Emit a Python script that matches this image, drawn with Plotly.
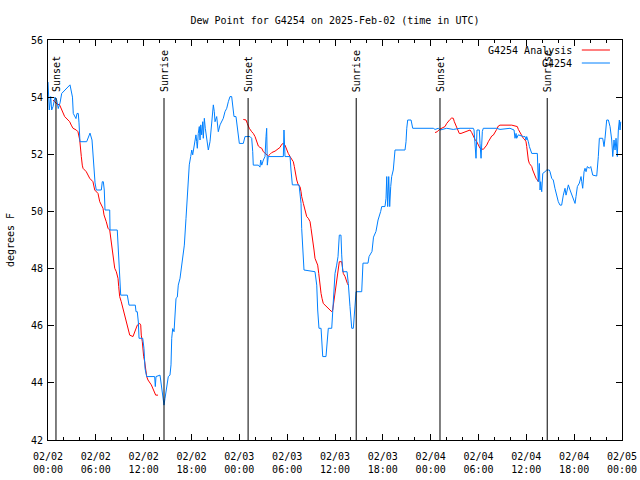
import pandas as pd
import plotly.graph_objects as go

# ---- data (hours after 2025-02-02 00:00 UTC, dew point in deg F) ----
obs_hours = [0.00, 0.16, 0.34, 0.46, 0.63, 0.88, 1.09, 1.29, 1.51, 1.72, 2.76, 3.07, 3.17, 3.51, 3.64,
             3.80, 3.89, 4.01, 4.85, 5.11, 5.27, 5.52, 5.68, 5.90, 6.06, 6.69, 6.81, 6.94, 7.06, 7.15,
             7.74, 7.78, 8.69, 8.82, 8.91, 9.12, 9.95, 10.04, 10.16, 10.95, 11.04, 11.20, 11.33, 11.42,
             11.88, 12.04, 12.17, 12.38, 13.38, 13.46, 13.55, 14.05, 14.26, 14.46, 14.55, 14.68, 14.89,
             15.09, 15.30, 15.43, 15.52, 15.64, 15.81, 15.93, 16.06, 16.22, 16.34, 16.56, 16.77, 16.97,
             17.10, 17.31, 17.47, 17.60, 17.72, 17.90, 18.03, 18.15, 18.31, 18.44, 18.56, 18.65, 18.73,
             18.85, 18.98, 19.07, 19.16, 19.28, 19.41, 19.48, 19.61, 19.73, 19.91, 20.11, 20.32, 20.54,
             20.74, 20.86, 20.95, 21.16, 21.36, 21.58, 21.79, 21.99, 22.20, 22.42, 22.62, 22.83, 23.04,
             23.17, 23.33, 23.58, 23.75, 23.87, 24.00, 24.50, 24.71, 25.34, 25.55, 25.68, 25.75, 26.38,
             26.59, 26.68, 26.81, 27.01, 27.22, 27.35, 27.43, 27.51, 27.63, 29.52, 29.60, 29.73, 30.36,
             30.48, 30.65, 31.49, 31.74, 31.82, 31.95, 32.11, 33.49, 33.71, 33.83, 33.99, 34.25, 34.33,
             34.46, 34.87, 35.04, 35.16, 35.59, 35.71, 35.88, 36.00, 36.21, 36.38, 36.54, 36.75, 36.84,
             36.97, 37.51, 37.67, 37.88, 37.97, 38.10, 38.30, 38.39, 38.51, 38.64, 39.35, 39.51, 40.14,
             40.27, 40.64, 40.83, 41.14, 41.40, 41.73, 41.86, 42.27, 42.40, 42.49, 42.61, 42.74, 42.86,
             42.99, 43.11, 43.31, 43.53, 44.78, 44.91, 45.00, 45.12, 45.54, 45.75, 48.33, 48.55, 48.96,
             49.17, 50.01, 50.84, 51.68, 53.35, 53.44, 53.56, 53.69, 53.81, 54.10, 54.19, 54.32, 54.48,
             54.60, 56.28, 56.70, 57.95, 58.29, 58.46, 58.58, 58.71, 58.79, 58.99, 59.62, 59.84, 59.96,
             60.05, 60.25, 60.38, 60.68, 61.38, 61.50, 61.63, 61.72, 61.80, 61.93, 62.06, 62.34, 62.56,
             62.88, 62.97, 63.18, 63.38, 63.59, 63.80, 64.01, 64.22, 64.43, 64.64, 64.85, 64.98, 65.14,
             65.27, 65.48, 65.69, 65.89, 66.11, 66.23, 66.40, 66.65, 66.86, 66.95, 67.07, 67.24, 67.36,
             67.49, 67.65, 67.90, 68.08, 68.33, 68.83, 69.03, 69.16, 69.58, 69.75, 69.87, 70.08, 70.29,
             70.50, 70.71, 70.84, 71.00, 71.13, 71.25, 71.41, 71.54, 71.67, 71.75, 71.84]
obs_dewpt = [54.53, 53.55, 54.02, 53.55, 53.67, 54.00, 53.90, 53.60, 53.80, 54.13, 54.43, 54.00, 53.43, 53.25, 53.43,
             53.43, 53.10, 52.44, 52.44, 52.60, 52.74, 52.50, 51.69, 51.00, 50.75, 50.75, 51.04, 51.04, 50.75, 50.05,
             50.05, 49.35, 49.35, 48.70, 47.80, 47.07, 47.07, 46.95, 46.72, 46.72, 46.49, 46.49, 46.13, 45.56,
             45.56, 45.20, 44.50, 44.22, 44.22, 43.87, 44.22, 44.27, 43.81, 43.34, 43.22, 43.46, 43.81,
             44.22, 44.27, 44.63, 45.56, 45.90, 45.79, 46.26, 46.96, 47.00, 47.42, 47.66, 48.12, 48.47,
             48.82, 49.76, 50.58, 51.16, 51.63, 51.92, 52.15, 51.98, 52.27, 52.62, 52.68, 52.44, 52.21,
             52.73, 52.97, 52.50, 53.03, 52.68, 53.14, 52.56, 53.26, 52.91, 52.44, 52.15, 52.44, 53.14,
             53.73, 53.49, 53.14, 53.32, 52.79, 53.03, 53.14, 53.26, 53.49, 53.61, 53.84, 54.02, 54.02,
             53.73, 53.32, 53.32, 52.97, 52.68, 52.38, 52.38, 52.62, 52.62, 52.56, 52.09, 51.62, 51.62,
             51.55, 51.80, 51.62, 51.80, 51.92, 52.62, 52.91, 51.62, 51.92, 51.92, 52.85, 51.92, 51.92,
             51.45, 50.93, 50.93, 50.28, 49.41, 48.65, 47.95, 47.89, 47.42, 46.55, 45.91, 45.91, 45.38,
             44.92, 44.92, 45.62, 45.91, 45.91, 46.43, 47.19, 47.83, 48.12, 48.42, 49.17, 49.17, 48.48,
             47.89, 47.89, 47.48, 46.67, 46.20, 45.91, 45.91, 46.26, 46.90, 47.19, 47.19, 48.19, 48.19,
             48.42, 48.60, 49.10, 49.30, 49.70, 50.00, 50.17, 50.17, 50.46, 51.22, 50.17, 51.22, 50.17,
             50.87, 51.22, 51.45, 52.15, 52.15, 52.44, 52.91, 53.20, 53.20, 52.91, 52.91, 52.87, 52.91,
             52.85, 52.91, 52.87, 52.91, 52.91, 52.85, 52.38, 51.86, 52.85, 52.85, 52.38, 51.86, 52.80,
             52.91, 52.91, 52.87, 52.91, 52.87, 52.85, 52.56, 52.73, 52.56, 52.68, 52.62, 52.62, 52.50,
             52.62, 52.44, 52.27, 52.03, 52.03, 51.04, 51.68, 50.75, 51.04, 50.69, 51.33, 51.39, 51.45,
             51.45, 51.39, 51.16, 51.10, 50.81, 50.52, 50.34, 50.22, 50.22, 50.57, 50.81, 50.57, 50.75,
             50.93, 50.75, 50.57, 50.40, 50.28, 50.52, 50.87, 50.99, 51.22, 51.04, 50.81, 51.39, 51.51,
             51.39, 51.57, 51.51, 51.57, 51.27, 51.24, 51.92, 52.56, 52.56, 52.27, 52.56, 53.20, 53.20,
             52.97, 52.50, 51.92, 52.50, 52.15, 52.56, 51.92, 52.85, 53.20, 52.85, 53.14]

ana1_hours = [0.63, 1.04, 1.47, 1.67, 1.88, 2.09, 2.51, 2.72, 2.92, 3.14, 3.55, 3.76, 3.98, 4.05, 4.18,
              4.30, 4.39, 4.80, 5.23, 5.64, 5.86, 6.27, 6.49, 6.90, 7.02, 7.31, 7.53, 7.74, 7.87, 7.94,
              8.15, 8.37, 8.57, 8.78, 8.87, 8.99, 9.19, 9.53, 9.82, 10.04, 10.25, 10.66, 10.95, 11.20,
              11.50, 11.63, 11.70, 11.83, 12.00, 12.13, 12.38, 12.54, 12.96, 13.38, 13.51, 13.80]
ana1_dewpt = [53.90, 53.78, 53.72, 53.61, 53.49, 53.32, 53.20, 53.14, 53.02, 52.91, 52.85, 52.79, 52.50, 52.21, 51.92,
              51.62, 51.51, 51.39, 51.16, 51.04, 50.75, 50.63, 50.34, 50.11, 49.88, 49.64, 49.41, 49.35, 49.06, 48.83,
              48.42, 48.01, 47.89, 47.66, 47.37, 47.02, 46.84, 46.49, 46.20, 45.91, 45.67, 45.62, 45.85, 46.02,
              46.08, 46.02, 45.67, 45.44, 44.92, 44.74, 44.22, 44.10, 43.93, 43.69, 43.57, 43.57]

ana2_hours = [24.50, 24.84, 25.00, 25.25, 25.55, 25.75, 25.97, 26.18, 26.38, 26.59, 26.81, 27.01, 27.22, 27.43,
              27.63, 27.85, 28.06, 28.48, 28.69, 28.89, 29.10, 29.32, 29.52, 29.73, 29.94, 30.14, 30.36, 30.57,
              30.77, 30.90, 31.07, 31.20, 31.40, 31.61, 31.74, 31.82, 32.03, 32.24, 32.45, 32.65, 32.87, 32.99,
              33.08, 33.20, 33.37, 33.49, 33.71, 33.83, 33.96, 34.03, 34.12, 34.25, 34.37, 34.53, 34.75, 34.96,
              35.16, 35.37, 35.59, 35.71, 35.88, 36.00, 36.21, 36.34, 36.47, 36.54, 36.84, 36.92, 37.04, 37.26,
              37.38, 37.55, 37.67]
ana2_dewpt = [53.22, 53.20, 53.08, 52.91, 52.79, 52.73, 52.62, 52.44, 52.29, 52.24, 52.21, 52.09, 52.03, 51.97,
              51.94, 52.00, 52.06, 52.11, 52.15, 52.17, 52.24, 52.35, 52.38, 52.32, 52.15, 52.03, 51.92, 51.80,
              51.74, 51.57, 51.27, 51.10, 50.92, 50.87, 50.69, 50.52, 50.28, 50.05, 49.82, 49.76, 49.64, 49.41,
              49.17, 48.94, 48.65, 48.36, 48.24, 48.12, 47.83, 47.60, 47.37, 47.13, 46.96, 46.78, 46.72, 46.67,
              46.61, 46.55, 46.49, 46.55, 46.90, 47.13, 47.54, 47.83, 48.07, 48.24, 48.24, 48.07, 47.83, 47.72,
              47.60, 47.48, 47.42]

ana3_hours = [48.55, 48.83, 49.09, 49.59, 49.80, 50.01, 50.21, 50.43, 50.64, 50.84, 50.97, 51.18, 51.34, 51.59,
              51.81, 52.09, 52.43, 52.94, 53.15, 53.35, 53.56, 53.78, 53.98, 54.19, 54.60, 54.82, 55.03, 55.23,
              55.44, 55.66, 55.86, 56.07, 56.28, 56.49, 56.70, 58.17, 58.58, 58.87, 59.00, 59.21, 59.42, 59.62,
              59.84, 59.96, 60.05, 60.13, 60.25, 60.38, 60.55, 60.68, 60.80, 60.97, 61.09, 61.22, 61.38, 61.50]
ana3_dewpt = [52.76, 52.79, 52.87, 52.93, 52.97, 53.08, 53.17, 53.22, 53.27, 53.26, 53.14, 52.99, 52.87, 52.73,
              52.73, 52.76, 52.81, 52.85, 52.76, 52.62, 52.52, 52.44, 52.32, 52.21, 52.17, 52.23, 52.32, 52.44,
              52.56, 52.64, 52.67, 52.76, 52.87, 52.99, 53.02, 53.02, 52.99, 52.97, 52.87, 52.76, 52.64, 52.56,
              52.50, 52.44, 52.27, 52.03, 51.80, 51.68, 51.62, 51.57, 51.45, 51.33, 51.22, 51.16, 51.10, 51.04]

sun_hours = [1.00, 14.55, 25.10, 38.66, 49.17, 62.62]
sun_labels = ["Sunset", "Sunrise", "Sunset", "Sunrise", "Sunset", "Sunrise"]

tick_hours = [0, 6, 12, 18, 24, 30, 36, 42, 48, 54, 60, 66, 72]
tick_labels = ["02/02<br>00:00", "02/02<br>06:00", "02/02<br>12:00", "02/02<br>18:00",
               "02/03<br>00:00", "02/03<br>06:00", "02/03<br>12:00", "02/03<br>18:00",
               "02/04<br>00:00", "02/04<br>06:00", "02/04<br>12:00", "02/04<br>18:00",
               "02/05<br>00:00"]

base = pd.Timestamp("2025-02-02 00:00")


def to_time(hours):
    return [base + pd.Timedelta(hours=h) for h in hours]


FONT = "DejaVu Sans Mono"
RED = "#ff0000"
BLUE = "#0080ff"

fig = go.Figure()

# analysis (red) drawn in pieces, with gaps
ana_t = to_time(ana1_hours) + [None] + to_time(ana2_hours) + [None] + to_time(ana3_hours)
ana_v = ana1_dewpt + [None] + ana2_dewpt + [None] + ana3_dewpt
fig.add_trace(go.Scatter(x=ana_t, y=ana_v, mode="lines", name="G4254 Analysis",
                         line=dict(color=RED, width=1), connectgaps=False, showlegend=False))
fig.add_trace(go.Scatter(x=to_time(obs_hours), y=obs_dewpt, mode="lines", name="G4254",
                         line=dict(color=BLUE, width=1), showlegend=False))

# sunrise / sunset markers
for h, lab in zip(sun_hours, sun_labels):
    t = base + pd.Timedelta(hours=h)
    fig.add_shape(type="line", xref="x", yref="paper", x0=t, x1=t, y0=0, y1=0.855,
                  line=dict(color="black", width=1))
    fig.add_annotation(x=t, xref="x", y=0.865, yref="paper", text=lab, textangle=-90,
                       showarrow=False, xanchor="center", yanchor="bottom",
                       font=dict(family=FONT, size=10, color="black"))

# legend drawn gnuplot-style (text right, sample to the right)
leg = [("G4254 Analysis", RED, 0.975), ("G4254", BLUE, 0.9425)]
for txt, col, yy in leg:
    fig.add_annotation(x=0.916, xref="paper", y=yy, yref="paper", text=txt, showarrow=False,
                       xanchor="right", yanchor="middle", font=dict(family=FONT, size=10, color="black"))
    fig.add_shape(type="line", xref="paper", yref="paper", x0=0.930, x1=0.979, y0=yy, y1=yy,
                  line=dict(color=col, width=1))

# y-axis title
fig.add_annotation(x=-0.066, xref="paper", y=0.5, yref="paper", text="degrees F", textangle=-90,
                   showarrow=False, xanchor="center", yanchor="middle",
                   font=dict(family=FONT, size=10, color="black"))

fig.update_layout(
    width=640, height=480,
    margin=dict(l=48, r=18, t=40, b=40, autoexpand=False),
    paper_bgcolor="white", plot_bgcolor="white",
    font=dict(family=FONT, size=10, color="black"),
    title=dict(text="Dew Point for G4254 on 2025-Feb-02 (time in UTC)", x=0.5, xref="paper",
               xanchor="center", y=0.958, yanchor="middle", font=dict(family=FONT, size=10)),
    showlegend=False,
)
fig.update_xaxes(range=[base, base + pd.Timedelta(hours=72)], tickmode="array",
                 tickvals=to_time(tick_hours), ticktext=tick_labels, ticks="inside", ticklen=6,
                 tickcolor="black", showline=True, linecolor="black", linewidth=1, mirror="ticks",
                 showgrid=False, zeroline=False, tickfont=dict(family=FONT, size=10),
                 automargin=False, ticklabelstandoff=7,
                 minor=dict(ticks="inside", ticklen=3, tickcolor="black",
                            tickvals=to_time(list(range(0, 73, 2)))))
fig.update_yaxes(range=[42, 56], dtick=2, tick0=42, ticks="inside", ticklen=6, tickcolor="black",
                 showline=True, linecolor="black", linewidth=1, mirror="ticks", showgrid=False,
                 zeroline=False, tickfont=dict(family=FONT, size=10), automargin=False,
                 ticklabelstandoff=2)

fig.write_html("out.html", config={"displayModeBar": False},
               post_script="document.body.style.margin='0px';document.body.style.overflow='hidden';")
